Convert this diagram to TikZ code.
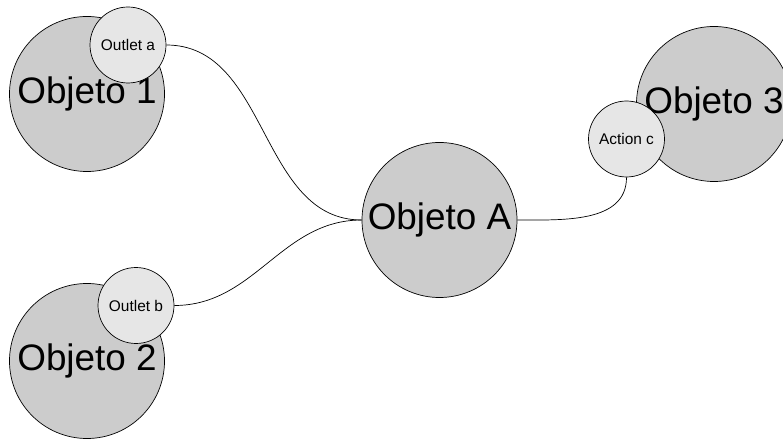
\documentclass[tikz,border=0pt]{standalone}
\usepackage{fontspec}
\setmainfont{Liberation Sans}
\usepackage{tikz}
\usetikzlibrary{positioning}
\definecolor{objgray}{RGB}{204,204,204}
\definecolor{portgray}{RGB}{230,230,230}

\tikzset{
    objeto/.style={draw, circle, line width=0.7pt, fill=objgray, minimum size=155bp, inner sep=0pt, font=\fontsize{37}{40}\selectfont},
    puerto/.style={draw, circle, line width=0.7pt, fill=portgray, minimum size=76bp, inner sep=0pt, font=\fontsize{15.5}{17}\selectfont},
    enlace/.style={line width=0.7pt}
}

\begin{document}
\begin{tikzpicture}[x=1bp, y=-1bp]
    \useasboundingbox (0,0) rectangle (783,440);

    % Objetos
    \node[objeto] (obj1) at (87,94) {Objeto 1};
    \node[objeto] (obj2) at (87,361) {Objeto 2};
    \node[objeto] (objA) at (439.5,220) {Objeto A};
    \node[objeto] (obj3) at (714,104) {Objeto 3};

    % Outlets y acciones
    \node[puerto] (outa) at (128,45) {Outlet a};
    \node[puerto] (outb) at (136,305.5) {Outlet b};
    \node[puerto] (actc) at (626.5,139) {Action c};

    % Conexiones
    \draw[enlace] (outa.east) to[out=0, in=180] (objA.west);
    \draw[enlace] (outb.east) to[out=0, in=180] (objA.west);
    \draw[enlace] (objA.east) to[out=0, in=-90] (actc.south);
\end{tikzpicture}
\end{document}
